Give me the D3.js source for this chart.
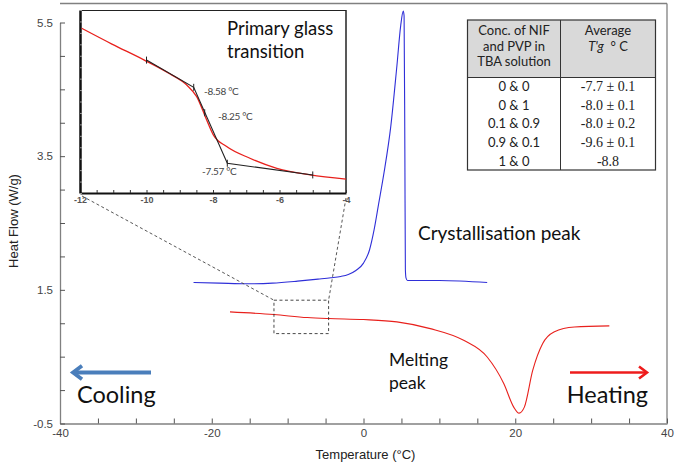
<!DOCTYPE html>
<html><head><meta charset="utf-8">
<script src="https://cdn.jsdelivr.net/npm/d3@7"></script>
<style>
html,body{margin:0;padding:0;background:#fff;}
svg{display:block;}
</style></head>
<body>
<svg id="chart" width="675" height="467"></svg>
<script>
// ---------- DATA ----------
// Main chart: cooling (crystallisation) curve, blue
const coolingX = [-22.4,-19,-15.3,-12,-8.7,-6,-4.3,-3,-2,-1,0,0.8,1.4,2.0,2.7,3.6,4.4,4.9,5.24,5.35,5.45,5.52,5.6,5.8,10,16.3];
const coolingY = [1.61,1.60,1.59,1.60,1.63,1.66,1.68,1.70,1.73,1.79,1.90,2.10,2.40,2.79,3.25,3.95,4.85,5.45,5.67,5.60,3.60,1.80,1.68,1.64,1.64,1.61];
// Main chart: heating (melting) curve, red
const heatingX = [-17.6,-11.8,-7.4,-4.6,0.0,4.4,8.8,13.2,16.3,18.5,19.8,20.5,21.2,22.3,23.6,25.1,27.8,32.4];
const heatingY = [1.17,1.13,1.085,1.07,1.055,1.02,0.92,0.745,0.495,0.095,-0.255,-0.345,-0.255,0.295,0.695,0.87,0.945,0.96];
// Main axes ticks
const xTicks = [-40,-35,-30,-25,-20,-15,-10,-5,0,5,10,15,20,25,30,35,40];
const xTickLabels = [-40,-20,0,20,40];
const yTicks = [-0.5,0,0.5,1,1.5,2,2.5,3,3.5,4,4.5,5,5.5];
const yTickLabels = [-0.5,1.5,3.5,5.5];
// Zoom box (region shown in inset)
const zoomBoxX = [-11.8,-4.6];
const zoomBoxY = [0.845,1.345];
// Inset: primary glass transition (heating curve detail)
const insetX = [-11.95,-11.04,-10.08,-9.29,-8.79,-8.49,-8.19,-7.99,-7.59,-6.89,-6.08,-5.08,-4.0];
const insetY = [1.1320,1.1251,1.1182,1.1120,1.1072,1.1021,1.0919,1.0854,1.0803,1.0752,1.0708,1.0679,1.0661];
// Inset tangent construction points
const tangentX = [-10,-8.58,-8.25,-7.57,-5];
const tangentY = [1.1181,1.1062,1.0951,1.0730,1.0679];
const insetTickLabels = [-12,-10,-8,-6,-4];
const insetAnnot = ["-8.58 °C","-8.25 °C","-7.57 °C"];
// Table
const tableHeader1 = ["Conc. of NIF","and PVP in","TBA solution"];
const tableRowsConc = ["0 & 0","0 & 1","0.1 & 0.9","0.9 & 0.1","1 & 0"];
const tableRowsTg = ["-7.7 ± 0.1","-8.0 ± 0.1","-8.0 ± 0.2","-9.6 ± 0.1","-8.8"];

// ---------- CHART ----------
const svg = d3.select("#chart");
const x = d3.scaleLinear().domain([-40,40]).range([60,667]);
const y = d3.scaleLinear().domain([-0.5,5.5]).range([423.5,22.5]);
const axisColor = "#808080";
const tickFont = "Liberation Sans, Arial, sans-serif";
const hy = s => String(s).replace("\u2212","-");

// frame top/right
svg.append("line").attr("x1",60).attr("x2",667).attr("y1",3.5).attr("y2",3.5).attr("stroke",axisColor).attr("stroke-width",1.3);
svg.append("line").attr("x1",667).attr("x2",667).attr("y1",3.5).attr("y2",423.5).attr("stroke",axisColor).attr("stroke-width",1.3);

// x axis
const gx = svg.append("g").attr("transform","translate(0,423.5)")
  .call(d3.axisBottom(x).tickValues(xTicks).tickSizeInner(-5).tickSizeOuter(0).tickPadding(5)
    .tickFormat(d => xTickLabels.includes(d) ? hy(d3.format("d")(d)) : ""));
gx.select(".domain").attr("stroke",axisColor).attr("stroke-width",1.3);
gx.selectAll(".tick line").attr("stroke","#555");
gx.selectAll("text").attr("font-family",tickFont).attr("font-size",11.5).attr("fill","#444");

// y axis
const gy = svg.append("g").attr("transform","translate(60,0)")
  .call(d3.axisLeft(y).tickValues(yTicks).tickSizeInner(-5).tickSizeOuter(0).tickPadding(7)
    .tickFormat(d => yTickLabels.includes(d) ? hy(d3.format(".1f")(d)) : ""));
gy.select(".domain").attr("stroke",axisColor).attr("stroke-width",1.3);
gy.selectAll(".tick line").attr("stroke","#555");
gy.selectAll("text").attr("font-family",tickFont).attr("font-size",11.5).attr("fill","#444");

// axis titles
svg.append("text").attr("x",x(0)+2).attr("y",459).attr("text-anchor","middle")
  .attr("font-family",tickFont).attr("font-size",13).attr("fill","#222").text("Temperature (°C)");
svg.append("text").attr("transform","translate(18,221) rotate(-90)").attr("text-anchor","middle")
  .attr("font-family",tickFont).attr("font-size",13).attr("fill","#222").text("Heat Flow (W/g)");

// curves
const line = d3.line().x(d=>x(d[0])).y(d=>y(d[1])).curve(d3.curveMonotoneX);
svg.append("path").datum(coolingX.map((v,i)=>[v,coolingY[i]]))
  .attr("d",line).attr("fill","none").attr("stroke","#2f2fd8").attr("stroke-width",1.1);
svg.append("path").datum(heatingX.map((v,i)=>[v,heatingY[i]]))
  .attr("d",line).attr("fill","none").attr("stroke","#e8201c").attr("stroke-width",1.1);

// inset scales
const xi = d3.scaleLinear().domain([-12,-4]).range([80,346]);
const yi = d3.scaleLinear().domain([1.06,1.14]).range([193,10]);

// zoom box and connecting dashed lines
const dash = "3,2.5";
svg.append("rect").attr("x",x(zoomBoxX[0])).attr("y",y(zoomBoxY[1]))
  .attr("width",x(zoomBoxX[1])-x(zoomBoxX[0])).attr("height",y(zoomBoxY[0])-y(zoomBoxY[1]))
  .attr("fill","none").attr("stroke","#333").attr("stroke-width",0.9).attr("stroke-dasharray",dash);
svg.append("line").attr("x1",xi(-12)+2).attr("y1",196).attr("x2",x(zoomBoxX[0])).attr("y2",y(zoomBoxY[1]))
  .attr("stroke","#444").attr("stroke-width",0.9).attr("stroke-dasharray",dash);
svg.append("line").attr("x1",xi(-4)).attr("y1",198).attr("x2",x(zoomBoxX[1])).attr("y2",y(zoomBoxY[1]))
  .attr("stroke","#444").attr("stroke-width",0.9).attr("stroke-dasharray",dash);

// inset frame
svg.append("rect").attr("x",80).attr("y",10).attr("width",266).attr("height",183).attr("fill","#fff").attr("stroke","none");
svg.append("line").attr("x1",80).attr("x2",346).attr("y1",10.5).attr("y2",10.5).attr("stroke","#222").attr("stroke-width",1.2);
svg.append("line").attr("x1",346).attr("x2",346).attr("y1",10).attr("y2",193).attr("stroke","#222").attr("stroke-width",1.5);
const gxi = svg.append("g").attr("transform","translate(0,193)")
  .call(d3.axisBottom(xi).tickValues(d3.range(-12,-3.9,0.5)).tickSizeInner(-3).tickSizeOuter(0).tickPadding(4)
    .tickFormat(d => insetTickLabels.includes(d) ? hy(d3.format("d")(d)) : ""));
gxi.select(".domain").attr("stroke","#111").attr("stroke-width",2);
gxi.selectAll(".tick line").attr("stroke","#333");
gxi.selectAll("text").attr("font-family",tickFont).attr("font-size",9).attr("font-weight","bold").attr("fill","#555");
const gyi = svg.append("g").attr("transform","translate(80,0)")
  .call(d3.axisLeft(yi).ticks(16).tickSizeInner(-2).tickSizeOuter(0).tickFormat(""));
gyi.select(".domain").attr("stroke","#111").attr("stroke-width",2.5);
gyi.selectAll(".tick line").attr("stroke","#999");

// inset curve
const linei = d3.line().x(d=>xi(d[0])).y(d=>yi(d[1])).curve(d3.curveMonotoneX);
svg.append("path").datum(insetX.map((v,i)=>[v,insetY[i]]))
  .attr("d",linei).attr("fill","none").attr("stroke","#e8201c").attr("stroke-width",1.3);
// tangent construction
const tanPts = tangentX.map((v,i)=>[v,tangentY[i]]);
const linet = d3.line().x(d=>xi(d[0])).y(d=>yi(d[1]));
svg.append("path").datum([tanPts[0],tanPts[1],tanPts[3],tanPts[4]])
  .attr("d",linet).attr("fill","none").attr("stroke","#222").attr("stroke-width",1.1);
svg.selectAll(".tmark").data(tanPts).enter().append("line")
  .attr("x1",d=>xi(d[0])).attr("x2",d=>xi(d[0]))
  .attr("y1",d=>yi(d[1])-3.5).attr("y2",d=>yi(d[1])+3.5)
  .attr("stroke","#222").attr("stroke-width",1);
// inset annotations
const annFont = "Lato, 'Open Sans', sans-serif";
const annPos = [[204,95],[218,120],[202,175]];
insetAnnot.forEach((t,i)=>{
  svg.append("text").attr("x",annPos[i][0]).attr("y",annPos[i][1])
    .attr("font-family",annFont).attr("font-size",10).attr("fill","#444").attr("letter-spacing",-0.3).text(t);
});
svg.append("text").attr("x",227).attr("y",35).attr("font-family",annFont).attr("font-size",18.5).attr("fill","#111").text("Primary glass");
svg.append("text").attr("x",227).attr("y",58).attr("font-family",annFont).attr("font-size",18.5).attr("fill","#111").text("transition");

// table
const tx0 = 467.5, tx1 = 560.5, tx2 = 655.5, ty0 = 20, tyH = 77.5, ty1 = 170;
svg.append("rect").attr("x",tx0).attr("y",ty0).attr("width",tx2-tx0).attr("height",tyH-ty0).attr("fill","#d9d9d9");
svg.append("rect").attr("x",tx0).attr("y",ty0).attr("width",tx2-tx0).attr("height",ty1-ty0).attr("fill","none").attr("stroke","#333").attr("stroke-width",1.2);
svg.append("line").attr("x1",tx0).attr("x2",tx2).attr("y1",tyH).attr("y2",tyH).attr("stroke","#333").attr("stroke-width",1);
svg.append("line").attr("x1",tx1).attr("x2",tx1).attr("y1",ty0).attr("y2",ty1).attr("stroke","#333").attr("stroke-width",1);
const c1 = (tx0+tx1)/2, c2 = (tx1+tx2)/2;
tableHeader1.forEach((t,i)=>{
  svg.append("text").attr("x",c1).attr("y",35+i*15.5).attr("text-anchor","middle")
    .attr("font-family",annFont).attr("font-size",13).attr("fill","#222").text(t);
});
svg.append("text").attr("x",c2).attr("y",35).attr("text-anchor","middle")
  .attr("font-family",annFont).attr("font-size",13).attr("fill","#222").text("Average");
const h2 = svg.append("text").attr("x",c2).attr("y",50.5).attr("text-anchor","middle")
  .attr("font-family",annFont).attr("font-size",13).attr("fill","#222").attr("xml:space","preserve");
h2.append("tspan").attr("font-style","italic").text("T'g");
h2.append("tspan").text("\u00a0\u00a0°\u00a0C");
tableRowsConc.forEach((t,i)=>{
  svg.append("text").attr("x",c1).attr("y",91+i*18.7).attr("text-anchor","middle")
    .attr("font-family",annFont).attr("font-size",13).attr("fill","#222").text(t);
});
tableRowsTg.forEach((t,i)=>{
  svg.append("text").attr("x",c2).attr("y",91+i*18.7).attr("text-anchor","middle")
    .attr("font-family","Liberation Serif, 'Times New Roman', serif").attr("font-size",14).attr("fill","#222").text(t);
});

// labels in main plot
svg.append("text").attr("x",418).attr("y",240).attr("font-family",annFont).attr("font-size",19).attr("fill","#111").text("Crystallisation peak");
svg.append("text").attr("x",389).attr("y",366).attr("font-family",annFont).attr("font-size",17.5).attr("fill","#111").text("Melting");
svg.append("text").attr("x",389).attr("y",389).attr("font-family",annFont).attr("font-size",17.5).attr("fill","#111").text("peak");
svg.append("text").attr("x",77).attr("y",403).attr("font-family",annFont).attr("font-size",23.5).attr("fill","#111").text("Cooling");
svg.append("text").attr("x",648).attr("y",403).attr("text-anchor","end").attr("font-family",annFont).attr("font-size",23.5).attr("fill","#111").text("Heating");

// arrows
function arrow(x1,x2,yy,color,w,head){
  svg.append("line").attr("x1",x1).attr("x2",x2).attr("y1",yy).attr("y2",yy).attr("stroke",color).attr("stroke-width",w);
  const dir = x2 > x1 ? -1 : 1;
  svg.append("path").attr("d",`M${x2+dir*head},${yy-head*0.75}L${x2},${yy}L${x2+dir*head},${yy+head*0.75}`)
    .attr("fill","none").attr("stroke",color).attr("stroke-width",w).attr("stroke-linejoin","miter");
}
arrow(151,73,372.5,"#4a7ebb",3.8,9);
arrow(570,647,372.5,"#ee1c1c",2.6,8);
</script>
</body></html>
